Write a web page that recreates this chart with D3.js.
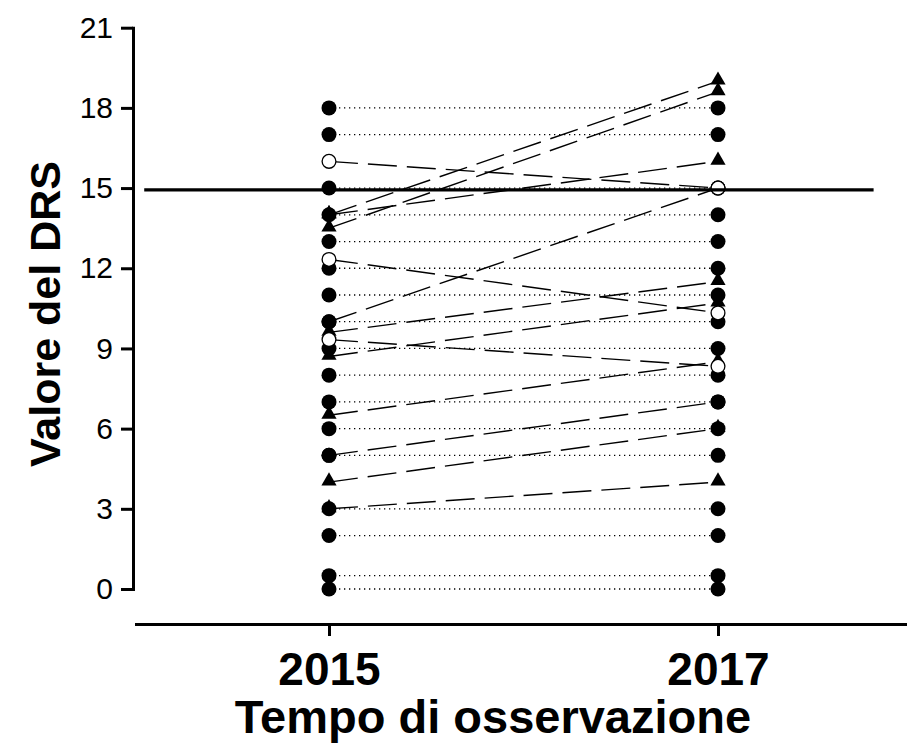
<!DOCTYPE html>
<html>
<head>
<meta charset="utf-8">
<script src="https://cdn.jsdelivr.net/npm/d3@7"></script>
<style>
  body { margin: 0; background: #fff; }
  svg { display: block; }
</style>
</head>
<body>
<div id="chart"></div>
<script>
// observation years
const years = [2015, 2017]
const yTicks = [0, 3, 6, 9, 12, 15, 18, 21]

// subjects whose score did not change (filled circles, dotted lines)
const stableValues = [18, 17, 15, 14, 13, 12, 11, 10, 9, 8, 7, 6, 5, 3, 2, 0.5, 0]

// subjects whose score changed (dashed lines)
const changedFrom = [14, 13.5, 14, 16, 10, 12.33, 9.6, 8.7, 9.33, 6.5, 5, 4, 3]
const changedTo   = [19, 18.6, 16, 15, 15, 10.33, 11.5, 10.7, 8.33, 8.5, 7, 6, 4]
const changedMark = ['tri', 'tri', 'tri', 'open', 'dot', 'open', 'tri', 'tri', 'open', 'tri', 'dot', 'tri', 'tri']

// reference line
const meanValue = [14.93]

const width = 907
const height = 744
const font = "'Liberation Sans', Arial, sans-serif"

const svg = d3.select('#chart').append('svg')
  .attr('width', width)
  .attr('height', height)

const x = d3.scaleLinear().domain([2014, 2018]).range([134.5, 912.5])
const y = d3.scaleLinear().domain([0, 21]).range([589, 27.7])

const changed = changedFrom.map((d, i) => ({ from: d, to: changedTo[i], mark: changedMark[i] }))

// dotted lines for unchanged subjects
svg.append('g')
  .selectAll('line')
  .data(stableValues)
  .enter().append('line')
    .attr('x1', x(years[0]))
    .attr('x2', x(years[1]))
    .attr('y1', d => y(d))
    .attr('y2', d => y(d))
    .attr('stroke', '#000')
    .attr('stroke-width', 1.3)
    .attr('stroke-dasharray', '1.3,3.7')

// dashed lines for changed subjects
svg.append('g')
  .selectAll('line')
  .data(changed)
  .enter().append('line')
    .attr('x1', x(years[0]))
    .attr('x2', x(years[1]))
    .attr('y1', d => y(d.from))
    .attr('y2', d => y(d.to))
    .attr('stroke', '#000')
    .attr('stroke-width', 1.4)
    .attr('stroke-dasharray', '29,10')

const points = []
changed.forEach(d => {
  points.push({ year: years[0], value: d.from, mark: d.mark })
  points.push({ year: years[1], value: d.to, mark: d.mark })
})

const tri = d3.symbol().type(d3.symbolTriangle).size(100)

svg.append('g')
  .selectAll('path')
  .data(points.filter(d => d.mark === 'tri'))
  .enter().append('path')
    .attr('d', tri)
    .attr('transform', d => 'translate(' + x(d.year) + ',' + (y(d.value) - 1) + ')')
    .attr('fill', '#000')

const dots = []
stableValues.forEach(v => years.forEach(yr => dots.push({ year: yr, value: v })))
points.filter(d => d.mark === 'dot').forEach(d => dots.push(d))

svg.append('g')
  .selectAll('circle')
  .data(dots)
  .enter().append('circle')
    .attr('cx', d => x(d.year))
    .attr('cy', d => y(d.value))
    .attr('r', 7.5)
    .attr('fill', '#000')

svg.append('g')
  .selectAll('circle')
  .data(points.filter(d => d.mark === 'open'))
  .enter().append('circle')
    .attr('cx', d => x(d.year))
    .attr('cy', d => y(d.value))
    .attr('r', 6.9)
    .attr('fill', '#fff')
    .attr('stroke', '#000')
    .attr('stroke-width', 1.3)

// reference line
svg.append('g')
  .selectAll('line')
  .data(meanValue)
  .enter().append('line')
    .attr('x1', x(2014.05))
    .attr('x2', x(2017.8))
    .attr('y1', d => y(d))
    .attr('y2', d => y(d))
    .attr('stroke', '#000')
    .attr('stroke-width', 3.2)

// axes
const yAxis = svg.append('g')
  .attr('transform', 'translate(133,0)')
  .call(d3.axisLeft(y).tickValues(yTicks).tickSize(12).tickSizeOuter(0).tickPadding(8))
yAxis.select('.domain').attr('stroke-width', 3).attr('stroke-linecap', 'square')
yAxis.selectAll('.tick line').attr('stroke-width', 3)
yAxis.selectAll('.tick text')
  .style('font-family', font)
  .style('font-size', '30px')
  .attr('fill', '#000')

const xAxis = svg.append('g')
  .attr('transform', 'translate(0,624)')
  .call(d3.axisBottom(x).tickValues(years).tickFormat(d3.format('d')).tickSize(12).tickSizeOuter(0).tickPadding(16))
xAxis.select('.domain').attr('stroke-width', 3.2)
xAxis.selectAll('.tick line').attr('stroke-width', 3)
xAxis.selectAll('.tick text')
  .style('font-family', font)
  .style('font-size', '46px')
  .style('font-weight', 'bold')
  .attr('fill', '#000')

svg.append('text')
  .attr('x', 493)
  .attr('y', 733)
  .attr('text-anchor', 'middle')
  .style('font-family', font)
  .style('font-size', '47px')
  .style('font-weight', 'bold')
  .text('Tempo di osservazione')

svg.append('text')
  .attr('transform', 'translate(60,314) rotate(-90)')
  .attr('text-anchor', 'middle')
  .style('font-family', font)
  .style('font-size', '43px')
  .style('font-weight', 'bold')
  .text('Valore del DRS')
</script>
</body>
</html>
